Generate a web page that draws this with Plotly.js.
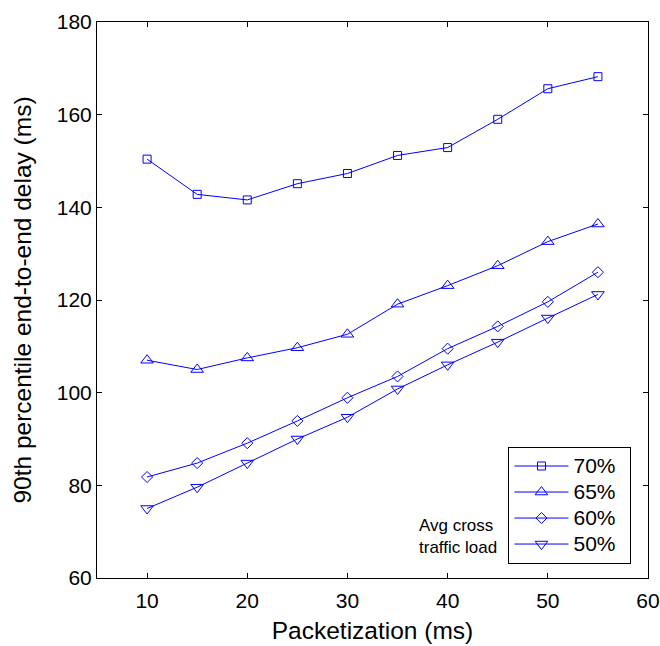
<!DOCTYPE html>
<html>
<head>
<meta charset="utf-8">
<script src="https://cdn.plot.ly/plotly-3.0.1.min.js"></script>
<style>html,body{margin:0;padding:0;background:#fff;}#chart{width:660px;height:646px;}</style>
</head>
<body>
<div id="chart"></div>
<script>
const packetization = [10, 15, 20, 25, 30, 35, 40, 45, 50, 55];
const load70 = [150.4, 142.8, 141.6, 145.1, 147.3, 151.2, 152.9, 159.0, 165.6, 168.2];
const load65 = [107.0, 105.0, 107.5, 109.7, 112.6, 119.1, 123.1, 127.4, 132.6, 136.4];
const load60 = [81.8, 84.8, 89.1, 93.9, 98.9, 103.5, 109.5, 114.3, 119.6, 126.0];
const load50 = [75.0, 79.6, 84.8, 90.0, 94.7, 100.8, 106.0, 110.9, 116.1, 121.2];
const seriesNames = ['70%', '65%', '60%', '50%'];
const symbols = ['square-open', 'triangle-up-open', 'diamond-open', 'triangle-down-open'];
const markerSizes = [8, 11, 8.5, 11];
const seriesData = [load70, load65, load60, load50];
const xTicks = [10, 20, 30, 40, 50, 60];
const yTicks = [60, 80, 100, 120, 140, 160, 180];

const fontFam = '"Liberation Sans", Arial, sans-serif';
const traces = seriesData.map((vals, i) => ({
  x: packetization, y: vals, type: 'scatter', mode: 'lines+markers',
  name: '<span style="font-size:21px">' + seriesNames[i] + '</span>&nbsp;&nbsp;',
  line: {color: '#0000ff', width: 1},
  marker: {symbol: symbols[i], size: markerSizes[i], color: '#0000ff', line: {width: 1, color: '#0000ff'}}
}));

const axisCommon = {
  showgrid: false, zeroline: false, showline: true, linecolor: '#000', linewidth: 1,
  mirror: 'ticks', ticks: 'inside', ticklen: 5, tickcolor: '#000',
  tickfont: {family: fontFam, size: 21, color: '#000'}
};

const layout = {
  width: 660, height: 646,
  margin: {l: 97, r: 12, t: 22, b: 68},
  paper_bgcolor: '#fff', plot_bgcolor: '#fff',
  font: {family: fontFam, color: '#000'},
  showlegend: true,
  xaxis: Object.assign({}, axisCommon, {
    range: [5, 60], tickvals: xTicks, ticktext: xTicks.map(String), ticklabelstandoff: 4,
    title: {text: 'Packetization (ms)', font: {family: fontFam, size: 24.5, color: '#000'}, standoff: 10}
  }),
  yaxis: Object.assign({}, axisCommon, {
    range: [60, 180], tickvals: yTicks, ticktext: yTicks.map(String),
    title: {text: '90th percentile end-to-end delay (ms)', font: {family: fontFam, size: 24.5, color: '#000'}, standoff: 18}
  }),
  legend: {
    x: 0.970, xanchor: 'right', y: 0.2356, yanchor: 'top',
    bgcolor: '#fff', bordercolor: '#000', borderwidth: 1, itemwidth: 54,
    font: {family: fontFam, size: 17.7, color: '#000'}
  },
  annotations: [{
    xref: 'paper', yref: 'paper', x: (417 - 97) / 551, y: (578 - 514) / 556,
    xanchor: 'left', yanchor: 'top', align: 'left', showarrow: false,
    text: 'Avg cross<br>traffic load', font: {family: fontFam, size: 17, color: '#000'}
  }]
};

Plotly.newPlot('chart', traces, layout, {displayModeBar: false, staticPlot: true});
</script>
</body>
</html>
